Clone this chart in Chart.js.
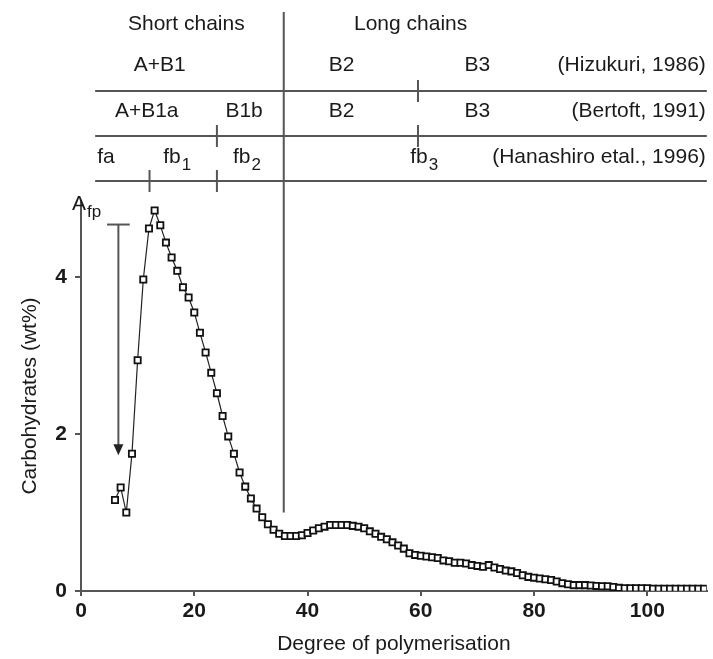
<!DOCTYPE html>
<html><head><meta charset="utf-8">
<script src="https://cdn.jsdelivr.net/npm/chart.js@4/dist/chart.umd.min.js"></script>
<style>html,body{margin:0;padding:0;background:#fff}#wrap{width:713px;height:659px}</style>
</head><body><div id="wrap"><canvas id="c" width="713" height="659"></canvas></div>
<script>
// Degree of polymerisation (chain length)
const dp = [6,7,8,9,10,11,12,13,14,15,16,17,18,19,20,21,22,23,24,25,26,27,28,29,30,
  31,32,33,34,35,36,37,38,39,40,41,42,43,44,45,46,47,48,49,50,51,52,53,54,55,56,57,58,59,60,
  61,62,63,64,65,66,67,68,69,70,71,72,73,74,75,76,77,78,79,80,81,82,83,84,85,86,87,88,89,90,
  91,92,93,94,95,96,97,98,99,100,101,102,103,104,105,106,107,108,109,110];
// Carbohydrates (wt%)
const wt = [1.16,1.32,1.00,1.75,2.94,3.97,4.62,4.85,4.66,4.44,4.25,4.08,3.87,3.74,3.55,3.29,3.04,2.78,2.52,2.23,1.97,1.75,1.51,1.33,1.18,
  1.05,0.94,0.85,0.78,0.73,0.70,0.70,0.70,0.71,0.74,0.77,0.80,0.82,0.84,0.84,0.84,0.84,0.83,0.82,0.80,0.76,0.73,0.69,0.66,0.62,0.58,0.54,0.48,0.46,0.45,
  0.44,0.43,0.42,0.39,0.38,0.36,0.36,0.35,0.33,0.32,0.31,0.33,0.30,0.28,0.26,0.25,0.23,0.20,0.18,0.17,0.16,0.15,0.14,0.12,0.10,0.085,0.075,0.075,0.075,0.07,
  0.065,0.06,0.06,0.05,0.04,0.035,0.035,0.035,0.035,0.035,0.03,0.03,0.03,0.03,0.03,0.03,0.03,0.03,0.03,0.03];
const xTicks = [0,20,40,60,80,100];
const yTicks = [0,2,4];

// annotation values (in DP units / wt% units)
const dividerDP = 35.8, dividerBottom = 1.0;
const hizukuri = [["A+B1",13.9],["B2",46],["B3",70]];
const bertoft = [["A+B1a",11.6],["B1b",28.8],["B2",46],["B3",70]];
const hanashiro = [["fa","",4.4],["fb","1",16.9],["fb","2",29.2],["fb","3",60.5]];
const refs = ["(Hizukuri, 1986)","(Bertoft, 1991)","(Hanashiro etal., 1996)"];
const headTicks = [[59.5,0],[24,1],[59.5,1],[12.1,2],[24,2]];
const afpBar = [4.6,8.6,4.67], afpArrow = [6.6,1.73];

const FONT = '"Liberation Sans", Arial, Helvetica, sans-serif';
const TXT = '#1a1a1a', LN = '#555';

const annot = {
  id:'annot',
  afterDraw(chart){
    const {ctx, scales:{x,y}, chartArea:ca} = chart;
    const X = v => x.getPixelForValue(v), Y = v => y.getPixelForValue(v);
    const lineYs = [91,136,181], rowYs = [65,111,157];
    ctx.save();
    ctx.strokeStyle = LN; ctx.lineWidth = 2;
    lineYs.forEach(yy => { ctx.beginPath(); ctx.moveTo(X(2.5), yy); ctx.lineTo(ca.right, yy); ctx.stroke(); });
    ctx.beginPath(); ctx.moveTo(X(dividerDP), 12); ctx.lineTo(X(dividerDP), Y(dividerBottom)); ctx.stroke();
    headTicks.forEach(([d,r]) => { const yy = lineYs[r]; ctx.beginPath(); ctx.moveTo(X(d), yy-11); ctx.lineTo(X(d), yy+11); ctx.stroke(); });
    // text
    ctx.fillStyle = TXT; ctx.textBaseline = 'middle';
    const big = '21px ' + FONT, small = '17px ' + FONT;
    ctx.font = big; ctx.textAlign = 'center';
    ctx.fillText('Short chains', X(18.6), 24);
    ctx.fillText('Long chains', X(58.2), 24);
    hizukuri.forEach(([t,d]) => ctx.fillText(t, X(d), rowYs[0]));
    bertoft.forEach(([t,d]) => ctx.fillText(t, X(d), rowYs[1]));
    ctx.textAlign = 'right';
    refs.forEach((t,i) => ctx.fillText(t, ca.right - 1, rowYs[i]));
    ctx.textAlign = 'left';
    const sub = (m, s, cx, cy, center) => {
      ctx.font = big; const w1 = ctx.measureText(m).width;
      ctx.font = small; const w2 = s ? ctx.measureText(s).width : 0;
      const x0 = center ? cx - (w1 + w2)/2 : cx;
      ctx.font = big; ctx.fillText(m, x0, cy);
      if (s) { ctx.font = small; ctx.fillText(s, x0 + w1 + 1, cy + 8); }
    };
    hanashiro.forEach(([m,s,d]) => sub(m, s, X(d), rowYs[2], true));
    // A_fp
    sub('A', 'fp', 72, 204, false);
    ctx.beginPath(); ctx.moveTo(X(afpBar[0]), Y(afpBar[2])); ctx.lineTo(X(afpBar[1]), Y(afpBar[2])); ctx.stroke();
    const ax = X(afpArrow[0]), tip = Y(afpArrow[1]);
    ctx.beginPath(); ctx.moveTo(ax, Y(afpBar[2])); ctx.lineTo(ax, tip - 8); ctx.stroke();
    ctx.fillStyle = '#222';
    ctx.beginPath(); ctx.moveTo(ax - 5, tip - 11); ctx.lineTo(ax + 5, tip - 11); ctx.lineTo(ax, tip); ctx.closePath(); ctx.fill();
    ctx.restore();
  }
};

new Chart(document.getElementById('c'), {
  type: 'line',
  data: { datasets: [{
    data: dp.map((d,i) => ({x:d, y:wt[i]})),
    borderColor: '#222', borderWidth: 1.2, tension: 0,
    pointStyle: 'rect', pointRadius: 4.4, pointBackgroundColor: '#fff',
    pointBorderColor: '#111', pointBorderWidth: 1.8
  }]},
  options: {
    responsive: false, animation: false, devicePixelRatio: 1,
    layout: { padding: { top: 201, right: 3, left: 0, bottom: 0 } },
    plugins: { legend: {display:false}, tooltip: {enabled:false} },
    scales: {
      x: {
        type: 'linear', min: 0, max: 110.5,
        afterBuildTicks: s => { s.ticks = xTicks.map(v => ({value:v})); },
        ticks: { font: {family: FONT, size: 21, weight: 'bold'}, color: TXT, padding: 3, maxRotation: 0, autoSkip: false },
        grid: { drawOnChartArea: false, drawTicks: true, tickLength: 5, color: LN, lineWidth: 2 },
        border: { display: true, color: LN, width: 2 },
        title: { display: true, text: 'Degree of polymerisation', color: TXT, font: {family: FONT, size: 21, lineHeight: 1.2}, padding: {top: 0, bottom: 2} },
        afterFit: s => { s.height = 68; }
      },
      y: {
        type: 'linear', min: 0, max: 4.97,
        afterBuildTicks: s => { s.ticks = yTicks.map(v => ({value:v})); },
        ticks: { font: {family: FONT, size: 21, weight: 'bold'}, color: TXT, padding: 8 },
        grid: { drawOnChartArea: false, drawTicks: true, tickLength: 6, color: LN, lineWidth: 2 },
        border: { display: true, color: LN, width: 2 },
        title: { display: true, text: 'Carbohydrates (wt%)', color: TXT, font: {family: FONT, size: 21, lineHeight: 1.2}, padding: {top: 18, bottom: 0} },
        afterFit: s => { s.width = 81; }
      }
    }
  },
  plugins: [annot]
});
</script>
</body></html>
